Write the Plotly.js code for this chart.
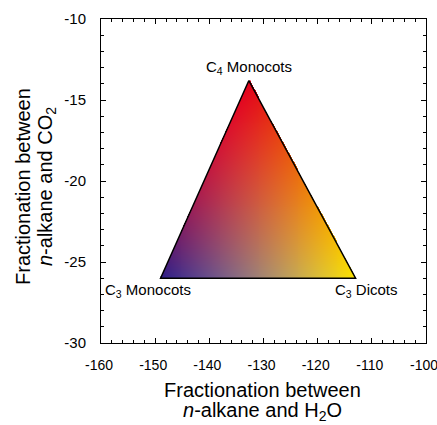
<!DOCTYPE html>
<html><head><meta charset="utf-8">
<script src="https://cdn.plot.ly/plotly-3.0.1.min.js"></script>
<style>html,body{margin:0;padding:0;background:#fff}#chart{width:437px;height:425px}</style>
</head><body><div id="chart"></div>
<script>
const groups = ['C<sub>4</sub> Monocots', 'C<sub>3</sub> Monocots', 'C<sub>3</sub> Dicots'];
const h2oFractionation = [-132.7, -149.0, -113.0];
const co2Fractionation = [-13.8, -26.0, -26.0];
// colours read at the three corners (same order as groups)
const vertexColors = [[226, 0, 26], [44, 30, 135], [250, 228, 0]];
// colours read at the edge midpoints: C4-C3mono, C4-C3dicot, C3mono-C3dicot
const edgeMidColors = [[185, 28, 70], [236, 118, 12], [158, 130, 118]];
const xTickVals = [-160, -150, -140, -130, -120, -110, -100];
const yTickVals = [-30, -25, -20, -15, -10];
const xTitleLines = ['Fractionation between', '<i>n</i>-alkane and H<sub>2</sub>O'];
const yTitleLines = ['Fractionation between', '<i>n</i>-alkane and CO<sub>2</sub>'];

// gradient fill built from the vertex data (quadratic blend over the triangle)
const xs = h2oFractionation, ys = co2Fractionation;
const nx = 200, ny = 200;
const xmin = Math.min(...xs), xmax = Math.max(...xs);
const ymin = Math.min(...ys), ymax = Math.max(...ys);
const dx = (xmax - xmin) / nx, dy = (ymax - ymin) / ny;
const det = (ys[1] - ys[2]) * (xs[0] - xs[2]) + (xs[2] - xs[1]) * (ys[0] - ys[2]);
const z = [];
for (let j = 0; j < ny; j++) {
  const row = [];
  const y = ymin + (j + 0.5) * dy;
  for (let i = 0; i < nx; i++) {
    const x = xmin + (i + 0.5) * dx;
    const l0 = ((ys[1] - ys[2]) * (x - xs[2]) + (xs[2] - xs[1]) * (y - ys[2])) / det;
    const l1 = ((ys[2] - ys[0]) * (x - xs[2]) + (xs[0] - xs[2]) * (y - ys[2])) / det;
    const l2 = 1 - l0 - l1;
    if (l0 < -0.004 || l1 < -0.004 || l2 < -0.004) { row.push([255, 255, 255, 0]); continue; }
    let a = Math.max(0, l0), b = Math.max(0, l1), c = Math.max(0, l2);
    const s = a + b + c; a /= s; b /= s; c /= s;
    const N = [a * (2 * a - 1), b * (2 * b - 1), c * (2 * c - 1), 4 * a * b, 4 * a * c, 4 * b * c];
    const cols = [vertexColors[0], vertexColors[1], vertexColors[2], edgeMidColors[0], edgeMidColors[1], edgeMidColors[2]];
    const px = [0, 1, 2].map(k => {
      let v = 0;
      for (let m = 0; m < 6; m++) v += N[m] * cols[m][k];
      return Math.min(255, Math.max(0, v));
    });
    row.push([px[0], px[1], px[2], 1]);
  }
  z.push(row);
}

const fill = {
  type: 'image', z: z, colormodel: 'rgba',
  x0: xmin + dx / 2, dx: dx, y0: ymin + dy / 2, dy: dy,
  hoverinfo: 'skip'
};
const outline = {
  type: 'scatter', mode: 'lines',
  x: xs.concat([xs[0]]), y: ys.concat([ys[0]]),
  line: { color: '#000', width: 1.5 }, hoverinfo: 'skip', showlegend: false
};

const labelShift = [[0, 2, 'bottom'], [-13, -1, 'top'], [11, -1, 'top']];
const annotations = groups.map((g, k) => ({
  x: xs[k], y: ys[k], xref: 'x', yref: 'y', text: g, showarrow: false,
  xanchor: 'center', yanchor: labelShift[k][2], xshift: labelShift[k][0], yshift: labelShift[k][1],
  font: { size: 15, color: '#000' }
}));
// axis titles, one annotation per line so the line spacing can match
const xTitleShift = [-47, -68];
xTitleLines.forEach((t, k) => annotations.push({
  x: 0.5, y: 0, xref: 'paper', yref: 'paper', text: t, showarrow: false,
  xanchor: 'center', yanchor: 'middle', yshift: xTitleShift[k], xshift: -1,
  font: { size: 20, color: '#000' }
}));
const yTitleShift = [-78, -55];
yTitleLines.forEach((t, k) => annotations.push({
  x: 0, y: 0.5, xref: 'paper', yref: 'paper', text: t, showarrow: false, textangle: -90,
  xanchor: 'center', yanchor: 'middle', xshift: yTitleShift[k], yshift: -6,
  font: { size: 20, color: '#000' }
}));

const fontFam = 'Liberation Sans, Arial, sans-serif';
const axisCommon = {
  showgrid: false, zeroline: false, showline: true, linecolor: '#000', linewidth: 1,
  mirror: 'ticks', ticks: 'inside', ticklen: 5, tickwidth: 1, tickcolor: '#000',
  automargin: false, ticklabeloverflow: 'allow'
};
const layout = {
  width: 437, height: 425,
  margin: { l: 101, r: 11, t: 19, b: 82 },
  paper_bgcolor: '#fff', plot_bgcolor: '#fff',
  font: { family: fontFam, color: '#000' },
  showlegend: false,
  xaxis: Object.assign({}, axisCommon, {
    range: [-160, -100], autorange: false, tickvals: xTickVals, ticktext: xTickVals.map(String),
    ticklabelstandoff: 9, ticklabelshift: -2, tickfont: { size: 14, color: '#000' },
    minor: { dtick: 2, ticks: 'inside', ticklen: 3, tickcolor: '#000', showgrid: false }
  }),
  yaxis: Object.assign({}, axisCommon, {
    range: [-30, -10], autorange: false, scaleanchor: false, tickvals: yTickVals, ticktext: yTickVals.map(String),
    ticklabelstandoff: 11, tickfont: { size: 15, color: '#000' },
    minor: { dtick: 1, ticks: 'inside', ticklen: 3, tickcolor: '#000', showgrid: false }
  }),
  annotations: annotations
};
Plotly.newPlot('chart', [fill, outline], layout, { displayModeBar: false, staticPlot: true });
</script></body></html>
